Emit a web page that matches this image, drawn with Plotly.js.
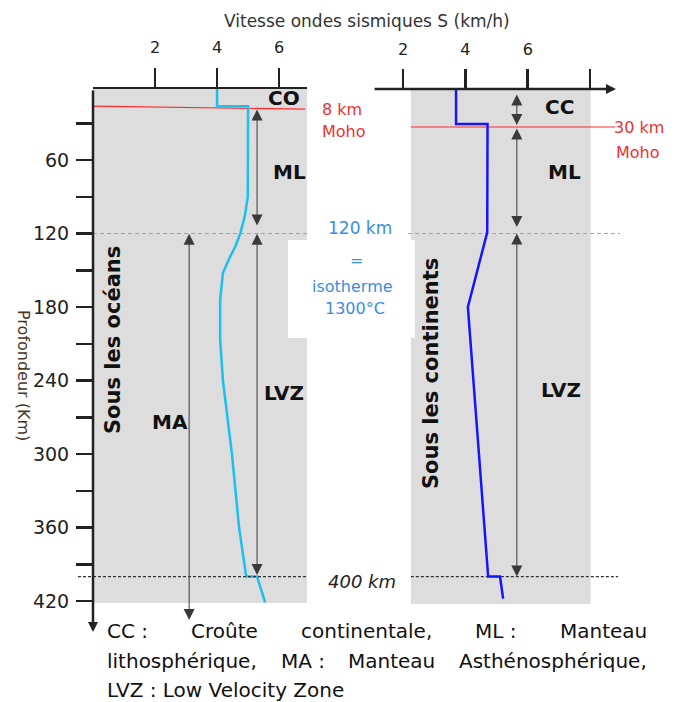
<!DOCTYPE html>
<html><head><meta charset="utf-8">
<script src="https://cdn.plot.ly/plotly-3.0.1.min.js"></script>
<style>html,body{margin:0;padding:0;background:#fff}#chart{width:675px;height:702px}</style>
</head><body><div id="chart"></div>
<script>
// ---------- data ----------
const oceanDepth = [0, 16, 16, 90, 105, 119, 130, 139, 152, 174, 207, 240, 300, 360, 400, 400, 421];
const oceanVs    = [4.0, 4.0, 5.0, 4.99, 4.9, 4.76, 4.6, 4.42, 4.19, 4.1, 4.1, 4.19, 4.48, 4.71, 4.94, 5.29, 5.55];
const contDepth  = [0, 30.6, 30.6, 119, 180, 400, 400, 418];
const contVs     = [3.70, 3.70, 4.71, 4.70, 4.08, 4.73, 5.11, 5.21];

const depthTickVals = [30, 60, 90, 120, 150, 180, 210, 240, 270, 300, 330, 360, 390, 420];
const depthTickText = ['', '60', '', '120', '', '180', '', '240', '', '300', '', '360', '', '420'];
const speedTicksLeft = [2, 4, 6];
const speedTicksRight = [2, 4, 6, 8];
const speedTickTextRight = ['2', '4', '6', ''];

const mohoOceanDepth = [16, 18.5];   // drawn position of the 8 km Moho
const mohoContDepth = [33, 33];      // drawn position of the 30 km Moho
const isothermDepth = 120;
const transitionDepth = 400;

// layer arrows [top tip, bottom tip]
const oceanML  = [17.5, 113.5];
const oceanLVZ = [119, 398.8];
const oceanMA  = [119, 435.5];
const contCC   = [5.3, 31.4];
const contML   = [33, 114.7];
const contLVZ  = [118.8, 400];

// ---------- layout helpers ----------
const W = 675, H = 702, L = 93, R = 0, T = 89, B = 61;
const PW = W - L - R, PH = H - T - B;
const px = x => (x - L) / PW;
const py = y => (H - B - y) / PH;
const FONT = 'DejaVu Sans';

const traces = [
  {x: oceanVs, y: oceanDepth, xaxis: 'x', yaxis: 'y', mode: 'lines',
   line: {color: '#1cbff0', width: 2.5}, hoverinfo: 'skip', showlegend: false},
  {x: contVs, y: contDepth, xaxis: 'x2', yaxis: 'y', mode: 'lines',
   line: {color: '#1414ff', width: 2.5}, hoverinfo: 'skip', showlegend: false}
];

const shapes = [
  {type: 'rect', xref: 'x', yref: 'y', x0: 0, x1: 6.90, y0: 0, y1: 421.6, fillcolor: '#dddddd', line: {width: 0}, layer: 'below'},
  {type: 'rect', xref: 'x2', yref: 'y', x0: 2.25, x1: 8.02, y0: 0, y1: 422.4, fillcolor: '#dddddd', line: {width: 0}, layer: 'below'},
  // white label box cutting into both panels
  {type: 'rect', xref: 'x', yref: 'y', x0: 6.29, x1: 6.95, y0: 125.3, y1: 205.3, fillcolor: '#ffffff', line: {width: 0}, layer: 'below'},
  {type: 'rect', xref: 'x2', yref: 'y', x0: 2.0, x1: 2.38, y0: 125.3, y1: 205.3, fillcolor: '#ffffff', line: {width: 0}, layer: 'below'},
  {type: 'line', xref: 'x', yref: 'y', x0: 0, x1: 6.84, y0: mohoOceanDepth[0], y1: mohoOceanDepth[1], line: {color: '#ff2a2a', width: 1.2}, layer: 'below'},
  {type: 'line', xref: 'x2', yref: 'y', x0: 2.25, x1: 8.81, y0: mohoContDepth[0], y1: mohoContDepth[1], line: {color: '#ff2a2a', width: 1.2}, layer: 'below'},
  {type: 'line', xref: 'x', yref: 'y', x0: 0, x1: 6.90, y0: isothermDepth, y1: isothermDepth, line: {color: '#8aa4d4', width: 1, dash: '4px,3px'}, layer: 'below'},
  {type: 'line', xref: 'x2', yref: 'y', x0: 2.16, x1: 8.96, y0: isothermDepth, y1: isothermDepth, line: {color: '#8aa4d4', width: 1, dash: '4px,3px'}, layer: 'below'},
  {type: 'line', xref: 'paper', yref: 'y', x0: px(78), x1: px(307), y0: transitionDepth, y1: transitionDepth, line: {color: '#333', width: 1.2, dash: '3px,2px'}, layer: 'above'},
  {type: 'line', xref: 'x2', yref: 'y', x0: 2.25, x1: 8.9, y0: transitionDepth, y1: transitionDepth, line: {color: '#333', width: 1.2, dash: '3px,2px'}, layer: 'below'}
];

function dbl(xref, x, tips) {
  return {xref: xref, yref: 'y', x: x, y: tips[1], ax: x, ay: tips[0], axref: xref, ayref: 'y',
    text: '', showarrow: true, arrowside: 'end+start', arrowhead: 2, startarrowhead: 2,
    arrowsize: 2.2, startarrowsize: 2.2, arrowwidth: 1, arrowcolor: '#3a3a3a', standoff: 0, startstandoff: 0};
}
function txt(text, x, y, size, color, extra) {
  return Object.assign({xref: 'paper', yref: 'paper', x: px(x), y: py(y), text: text, showarrow: false,
    xanchor: 'center', yanchor: 'middle', font: {family: FONT, size: size, color: color}}, extra || {});
}

const annotations = [
  // axes arrows
  {xref: 'x', yref: 'y', x: 0, y: 445.3, ax: 0, ay: 2, axref: 'x', ayref: 'y', text: '', showarrow: true,
   arrowhead: 2, arrowsize: 0.8, arrowwidth: 2.5, arrowcolor: '#222', standoff: 0},
  {xref: 'x2', yref: 'y', x: 8.83, y: 2, ax: 1.04, ay: 2, axref: 'x2', ayref: 'y', text: '', showarrow: true,
   arrowhead: 2, arrowsize: 0.8, arrowwidth: 2.5, arrowcolor: '#222', standoff: 0},
  // layer arrows
  dbl('x', 5.29, oceanML), dbl('x', 5.29, oceanLVZ), dbl('x', 3.10, oceanMA),
  dbl('x2', 5.65, contCC), dbl('x2', 5.65, contML), dbl('x2', 5.65, contLVZ),
  // texts
  txt('Vitesse ondes sismiques S (km/h)', 367, 21, 17, '#333'),
  txt('<b>CO</b>', 283.5, 98, 20, '#111'),
  txt('<b>ML</b>', 289, 172, 20, '#111'),
  txt('<b>LVZ</b>', 284, 393, 20, '#111'),
  txt('<b>MA</b>', 169.5, 422, 20, '#111'),
  txt('<b>Sous les océans</b>', 113, 340, 21, '#111', {textangle: -90}),
  txt('<b>CC</b>', 559, 107, 20, '#111'),
  txt('<b>ML</b>', 564, 172, 20, '#111'),
  txt('<b>LVZ</b>', 561, 390, 20, '#111'),
  txt('<b>Sous les continents</b>', 431, 374, 21, '#111', {textangle: -90}),
  txt('8 km', 320, 110, 16, '#f03030', {xanchor: 'left'}),
  txt('Moho', 320, 131, 16, '#f03030', {xanchor: 'left'}),
  txt('30 km', 612, 128, 16, '#f03030', {xanchor: 'left'}),
  txt('Moho', 614, 153, 16, '#f03030', {xanchor: 'left'}),
  txt('120 km', 360, 228, 17, '#3b8de0'),
  txt('=', 356, 260, 16, '#3b8de0'),
  txt('isotherme', 352, 286, 16, '#3b8de0'),
  txt('1300°C', 354.5, 308, 16, '#3b8de0'),
  txt('<i>400 km</i>', 362, 581, 18, '#222'),
  txt('Profondeur (Km)', 24, 375, 16, '#4a3826', {textangle: 90})
];

// justified legend text at the bottom
const legendLines = [
  ['CC :', 'Croûte', 'continentale,', 'ML :', 'Manteau'],
  ['lithosphérique,', 'MA :', 'Manteau', 'Asthénosphérique,'],
  ['LVZ : Low Velocity Zone']
];
const legendY = [631, 661, 690];
const leftEdge = 105, rightEdge = 645, legSize = 20;
const ctx = document.createElement('canvas').getContext('2d');
ctx.font = legSize + 'px "' + FONT + '"';
legendLines.forEach((words, i) => {
  if (words.length === 1) {
    annotations.push(txt(words[0], leftEdge, legendY[i], legSize, '#111', {xanchor: 'left'}));
    return;
  }
  const widths = words.map(w => ctx.measureText(w).width);
  const gap = (rightEdge - leftEdge - widths.reduce((a, b) => a + b, 0)) / (words.length - 1);
  let x = leftEdge;
  words.forEach((w, j) => {
    annotations.push(txt(w, x, legendY[i], legSize, '#111', {xanchor: 'left'}));
    x += widths[j] + gap;
  });
});

const tickStyle = {ticks: 'outside', tickcolor: '#222', showgrid: false, zeroline: false};
const layout = {
  width: W, height: H, margin: {l: L, r: R, t: T, b: B},
  paper_bgcolor: '#ffffff', plot_bgcolor: 'rgba(0,0,0,0)',
  font: {family: FONT, color: '#222'},
  showlegend: false,
  xaxis: Object.assign({domain: [0, px(307)], range: [0, 6.90], side: 'top', anchor: 'y',
    tickmode: 'array', tickvals: speedTicksLeft, ticklen: 19, tickwidth: 2.5,
    showline: true, linewidth: 2.5, linecolor: '#222', ticklabelstandoff: 8,
    tickfont: {family: FONT, size: 16, color: '#222'}}, tickStyle),
  xaxis2: Object.assign({domain: [px(340.7), px(625)], range: [0, 9.12], side: 'top', anchor: 'y',
    tickmode: 'array', tickvals: speedTicksRight, ticktext: speedTickTextRight, ticklen: 19, tickwidth: 2.5,
    showline: false, ticklabelstandoff: 8,
    tickfont: {family: FONT, size: 16, color: '#222'}}, tickStyle),
  yaxis: Object.assign({domain: [0, 1], range: [452.6, 2], anchor: 'x',
    tickmode: 'array', tickvals: depthTickVals, ticktext: depthTickText, ticklen: 16, tickwidth: 2.5,
    showline: false, ticklabelstandoff: 3,
    tickfont: {family: FONT, size: 19, color: '#222'}}, tickStyle),
  shapes: shapes,
  annotations: annotations
};

Plotly.newPlot('chart', traces, layout, {displayModeBar: false, staticPlot: true});
</script>
</body></html>
